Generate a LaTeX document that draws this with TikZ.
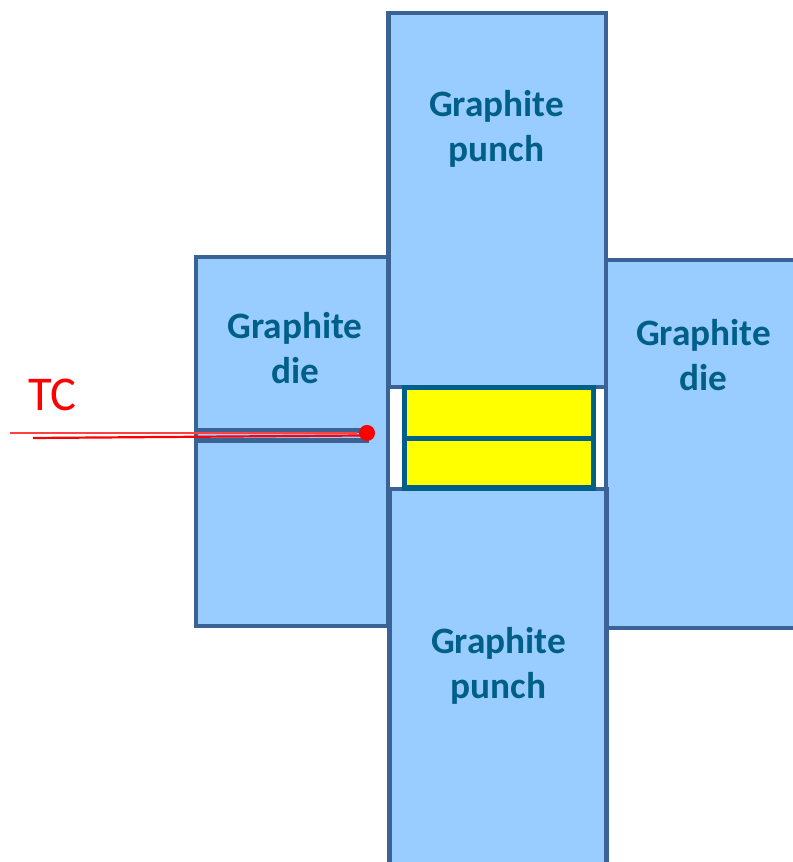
\documentclass[tikz,border=0pt]{standalone}
\usepackage{fontspec}
\setmainfont{Carlito}
\definecolor{blockfill}{HTML}{99CCFF}
\definecolor{blockline}{HTML}{3B6294}
\definecolor{labelblue}{HTML}{005F88}
\definecolor{sampleyellow}{HTML}{FFFF00}
\definecolor{tcred}{HTML}{FF0000}
\begin{document}
\begin{tikzpicture}[x=0.01cm, y=-0.01cm, line width=0.045cm,
    block/.style={draw=blockline, fill=blockfill},
    label node/.style={font=\fontsize{10.6pt}{12.8pt}\selectfont\bfseries, text=labelblue, align=center, inner sep=0pt},
    sample/.style={draw=labelblue, line width=0.05cm, fill=sampleyellow},
    tc wire/.style={draw=tcred, line width=0.022cm}]

    \useasboundingbox (0, 0) rectangle (792, 862);

    % die halves
    \draw[block] (196, 257) rectangle (388, 626);
    \draw[block] (606, 260) rectangle (812, 628);
    \draw[block] (196, 430.5) -- (369, 430.5);
    \draw[block] (196, 440.5) -- (369, 440.5);

    % punches
    \draw[block] (388.5, 13) rectangle (606, 387);
    \draw[block] (389.5, 489) rectangle (606.5, 882);

    % sample stack
    \fill[white] (391, 390) rectangle (603, 487);
    \draw[sample] (404.5, 388) rectangle (593.5, 488);
    \coordinate (midl) at (404.5, 438.5);
    \coordinate (midr) at (593.5, 438.5);
    \draw[labelblue, line width=0.05cm] (midl) -- (midr);

    % texts
    \node[label node] at (496.5, 129) (punchtop) {Graphite\\punch};
    \node[label node] at (498.5, 666) (punchbottom) {Graphite\\punch};
    \node[label node] at (295, 348) (dieleft) {Graphite\\die};
    \node[label node] at (703.5, 355) (dieright) {Graphite\\die};
    \node[text=tcred, inner sep=0pt, font=\fontsize{13.8pt}{16pt}\selectfont] at (52.5, 395) (tclabel) {TC};

    % thermocouple
    \coordinate (wirea) at (10, 433);
    \coordinate (wireb) at (33, 438);
    \coordinate (wirec) at (362, 435.5);
    \node[circle, fill=tcred, inner sep=0pt, minimum size=0.16cm] at (367, 433) (tcdot) {};
    \draw[tc wire, draw=tcred!75!white] (wirea) -- (tcdot);
    \draw[tc wire] (wireb) -- (wirec);
\end{tikzpicture}
\end{document}
